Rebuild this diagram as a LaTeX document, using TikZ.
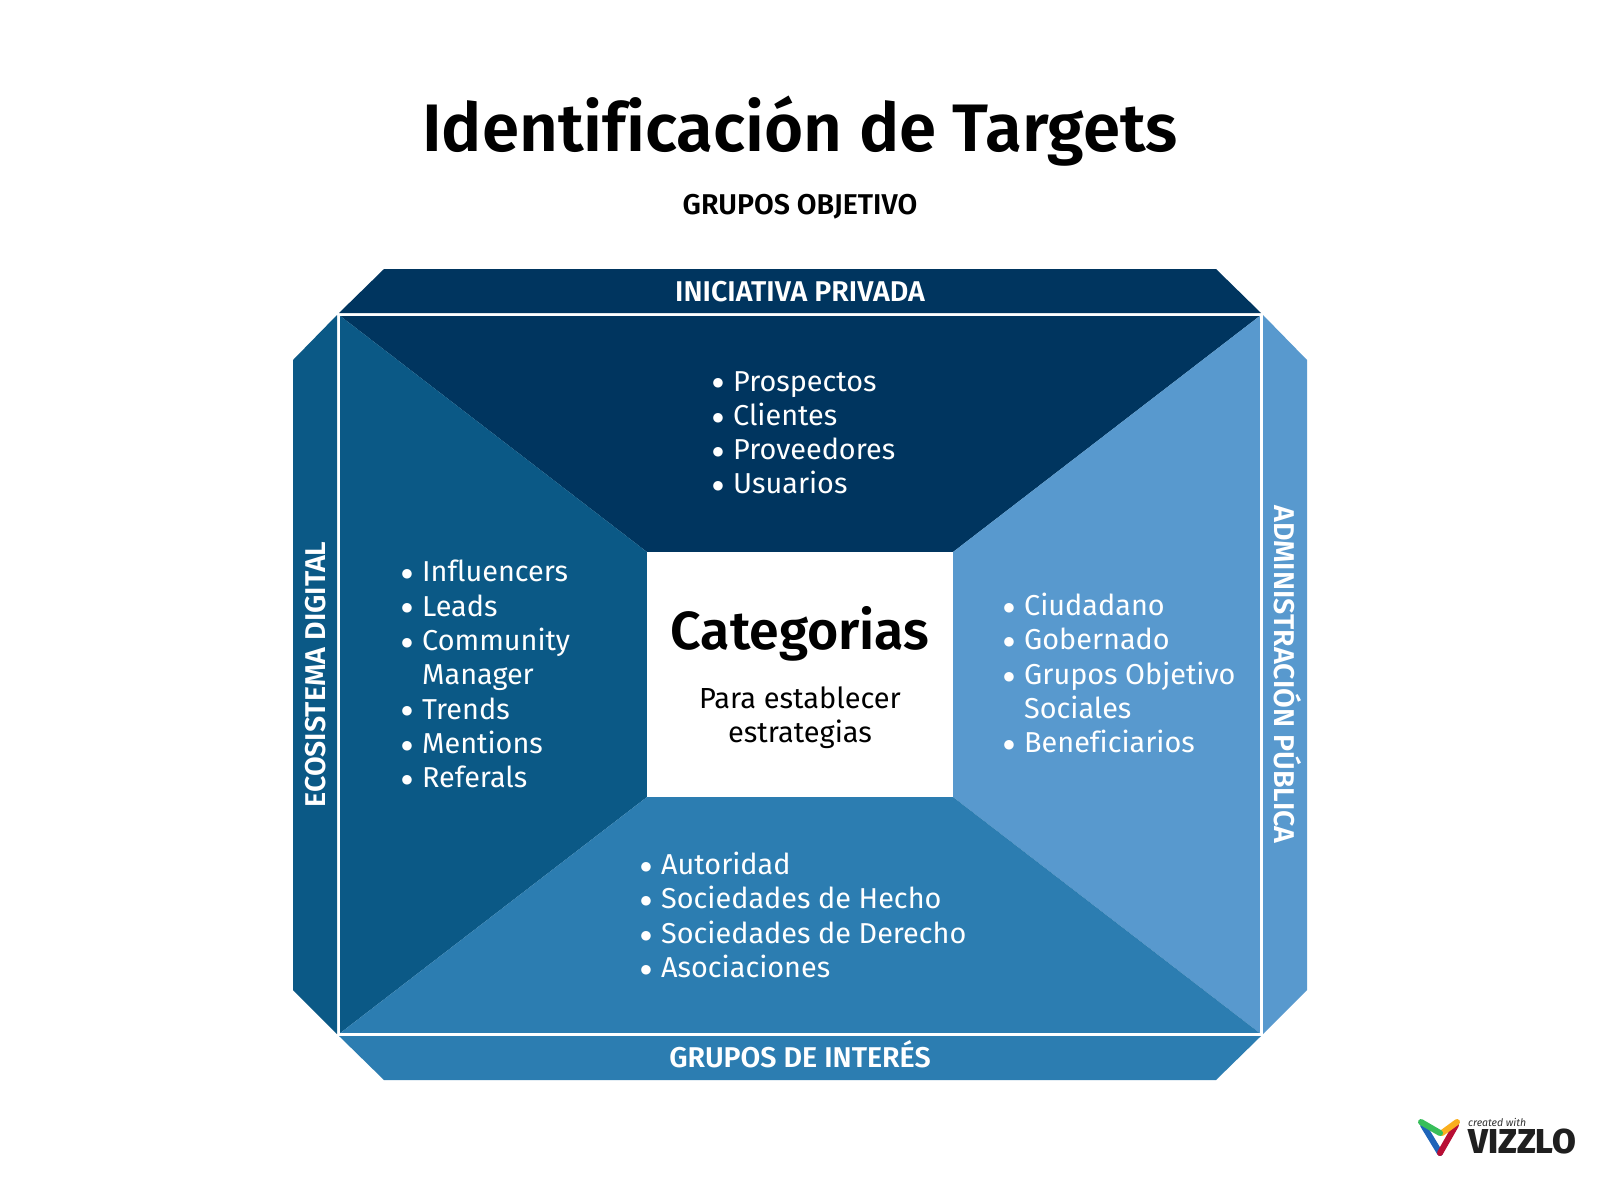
\documentclass[tikz,border=0pt]{standalone}
\usepackage{fontspec}
\setmainfont{Fira Sans}[Ligatures=NoCommon]
\newfontfamily\symf{DejaVu Sans}
\definecolor{cnavy}{HTML}{00355F}
\definecolor{cteal}{HTML}{0B5986}
\definecolor{cmid}{HTML}{2C7DB1}
\definecolor{csky}{HTML}{5899CE}
\tikzset{
  x=1pt,y=-1pt,
  band/.style={font=\fontsize{28.6}{30}\selectfont\fontspec{Fira Sans SemiBold},text=white,inner sep=0pt},
  lst/.style={font=\fontsize{28.8}{34.3}\selectfont,text=white,inner sep=0pt,anchor=north west,align=left},
  frameln/.style={draw=white,line width=2pt},
}
\newcommand{\itm}[1]{\makebox[22pt][l]{\smash{\raisebox{4.2pt}{\hspace*{1.4pt}\symf\fontsize{12.5}{12.5}\selectfont ●}}}#1\par}
\newcommand{\cnt}[1]{\hspace*{22pt}#1\par}
\begin{document}
\begin{tikzpicture}
\useasboundingbox (0,0) rectangle (1600,1200);
\fill[white] (0,0) rectangle (1600,1200);
% quadrants
\fill[cnavy] (339,315) -- (1261,315) -- (953,552) -- (647,552) -- cycle;
\fill[cteal] (339,315) -- (647,552) -- (647,797) -- (339,1034) -- cycle;
\fill[csky] (1261,315) -- (953,552) -- (953,797) -- (1261,1034) -- cycle;
\fill[cmid] (339,1034) -- (647,797) -- (953,797) -- (1261,1034) -- cycle;
% side bands
\fill[cnavy] (339,313) -- (384,269) -- (1216,269) -- (1261,313) -- cycle;
\fill[cmid] (339,1036) -- (384,1080) -- (1216,1080) -- (1261,1036) -- cycle;
\fill[cteal] (337,315) -- (293,360) -- (293,990) -- (337,1034) -- cycle;
\fill[csky] (1263,315) -- (1307,360) -- (1307,990) -- (1263,1034) -- cycle;
\draw[frameln] (339,315) rectangle (1261,1034);
\node[fill=white,minimum width=306pt,minimum height=245pt,inner sep=0pt] (centre) at (800,674.5) {};
% texts
\node[inner sep=0pt,font=\fontsize{67.2}{70}\selectfont\fontspec{Fira Sans SemiBold}] (title) at (800,131) {Identif\kern0pt icación de Targets};
\node[inner sep=0pt,font=\fontsize{28.6}{30}\selectfont\fontspec{Fira Sans SemiBold}] (sub) at (800,207) {GRUPOS OBJETIVO};
\node[band] (top) at (800,292) {INICIATIVA PRIVADA};
\node[band] (bot) at (800,1054) {GRUPOS DE INTERÉS};
\node[band,rotate=90] (lft) at (316,674.5) {ECOSISTEMA DIGITAL};
\node[band,rotate=-90] (rgt) at (1288,674.5) {ADMINISTRACIÓN PÚBLICA};
\node[inner sep=0pt,font=\fontsize{53.6}{56}\selectfont\fontspec{Fira Sans SemiBold}] (cat) at (800,634) {Categorias};
\node[inner sep=0pt,align=center,text=black,font=\fontsize{29}{34.4}\selectfont] (para) at (800,718) {Para establecer\\estrategias};
\node[lst] (l1) at (711,371) {\parbox{300pt}{\itm{Prospectos}\itm{Clientes}\itm{Proveedores}\itm{Usuarios}}};
\node[lst] (l2) at (400,560) {\parbox{230pt}{\itm{Influencers}\itm{Leads}\itm{Community}\cnt{Manager}\itm{Trends}\itm{Mentions}\itm{Referals}}};
\node[lst] (l3) at (1002,593) {\parbox{250pt}{\itm{Ciudadano}\itm{Gobernado}\itm{Grupos Objetivo}\cnt{Sociales}\itm{Beneficiarios}}};
\node[lst] (l4) at (639,852) {\parbox{340pt}{\itm{Autoridad}\itm{Sociedades de Hecho}\itm{Sociedades de Derecho}\itm{Asociaciones}}};
% logo
\draw[line width=6pt,line cap=round,color={rgb,255:red,30;green,100;blue,185}] (1423,1125) -- (1440,1153);
\draw[line width=6pt,line cap=round,color={rgb,255:red,184;green,14;blue,52}] (1440,1153) -- (1456,1125);
\draw[line width=6pt,line cap=round,color={rgb,255:red,250;green,175;blue,30}] (1442,1133) -- (1457,1122);
\draw[line width=6pt,line cap=round,color={rgb,255:red,55;green,190;blue,90}] (1421,1122) -- (1440,1133);
\node[inner sep=0pt,anchor=west,font=\fontsize{10.5}{12}\selectfont\itshape,text=black!80] (cw) at (1468,1122) {created with};
\node[inner sep=0pt,anchor=west,font=\fontsize{34.5}{30}\selectfont\fontspec{Fira Sans ExtraBold},text=black!88] (vz) at (1468,1141) {VIZZLO};
\end{tikzpicture}
\end{document}
